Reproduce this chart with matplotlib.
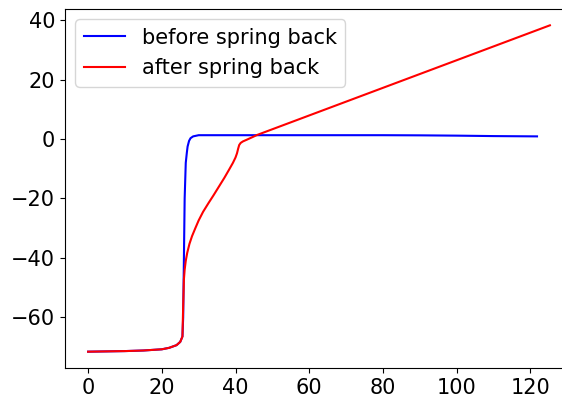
import matplotlib
matplotlib.use("Agg")
import matplotlib.pyplot as plt

# Profile before spring back
x_before = [0, 5, 10, 15, 20, 22, 24, 25, 25.6, 25.8, 26.0, 26.2, 26.5,
            26.8, 27.0, 27.4, 27.8, 28.5, 30.0, 40, 60, 80, 90, 100, 110, 121.8]
y_before = [-71.6, -71.5, -71.4, -71.2, -70.8, -70.3, -69.4, -68.3, -66.5,
            -60.0, -40.0, -20.0, -8.0, -4.5, -2.5, -0.6, 0.3, 0.9, 1.3,
            1.3, 1.3, 1.3, 1.25, 1.15, 1.0, 0.9]

# Profile after spring back
x_after = [0, 5, 10, 15, 20, 22, 24, 25, 25.6, 25.8, 26.0, 26.2, 26.5,
           26.9, 27.5, 28.2, 29.1, 30.0, 31.2, 32.7, 34.0, 35.5, 37.0,
           38.3, 39.3, 40.0, 40.4, 40.7, 41.0, 41.4, 42.0, 43.1, 45.9, 125.3]
y_after = [-71.6, -71.5, -71.4, -71.2, -70.8, -70.3, -69.4, -68.3, -66.5,
           -56.2, -47.2, -44.0, -41.0, -38.3, -35.3, -32.7, -30.0, -27.4,
           -24.5, -21.5, -19.0, -16.0, -13.0, -10.2, -8.0, -6.2, -4.8,
           -3.3, -2.0, -1.3, -0.8, -0.2, 1.4, 38.3]

W, H = 562, 401
fig = plt.figure(figsize=(W / 100, H / 100), dpi=100)
ax = fig.add_axes([65 / W, (H - 368) / H, (573 - 65) / W, (368 - 9) / H])

ax.plot(x_before, y_before, color="blue", lw=1.5, label="before spring back")
ax.plot(x_after, y_after, color="red", lw=1.5, label="after spring back")

ax.set_xticks([0, 20, 40, 60, 80, 100, 120])
ax.set_yticks([-60, -40, -20, 0, 20, 40])
ax.tick_params(labelsize=15)
ax.legend(loc="upper left", fontsize=15)

fig.savefig("out.png", dpi=100)
